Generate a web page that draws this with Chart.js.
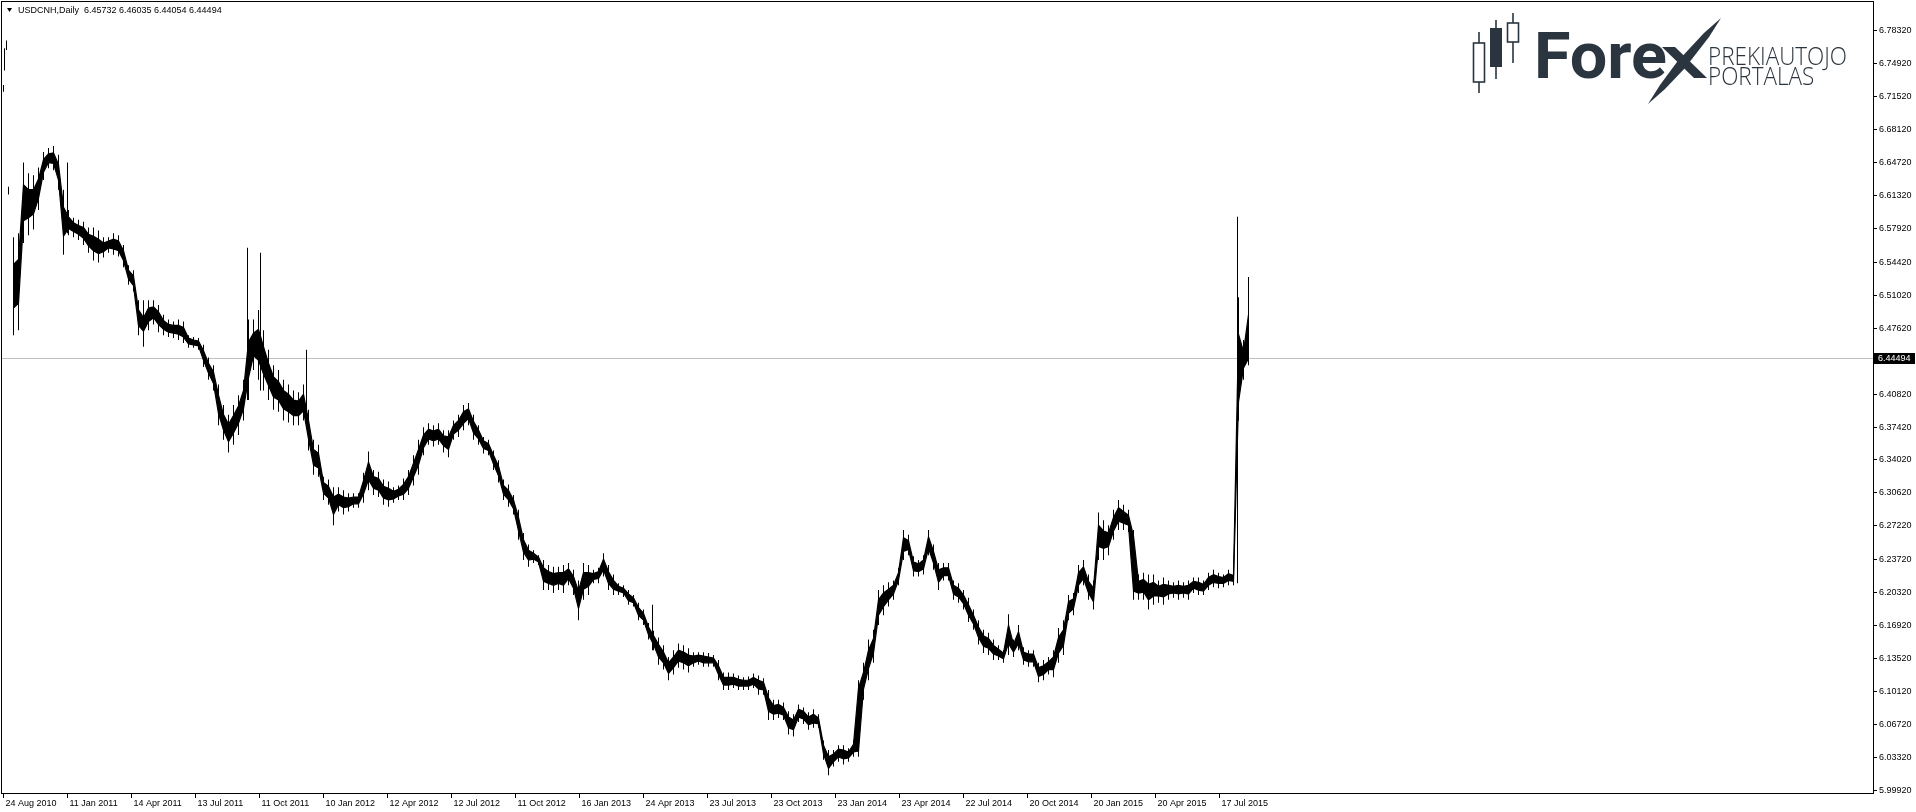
<!DOCTYPE html>
<html><head><meta charset="utf-8">
<script src="https://cdn.jsdelivr.net/npm/chart.js@4.4.1/dist/chart.umd.min.js"></script>
<style>html,body{margin:0;padding:0;background:#fff;overflow:hidden}canvas{display:block}</style>
</head><body>
<canvas id="c" width="1916" height="812"></canvas>
<script>
// ---------------- data ----------------
const symbolTitle = 'USDCNH,Daily';
const ohlcValues = ['6.45732', '6.46035', '6.44054', '6.44494'];
const lastPrice = 6.44494;

const dateTickLabels = ['24 Aug 2010','11 Jan 2011','14 Apr 2011','13 Jul 2011','11 Oct 2011','10 Jan 2012',
  '12 Apr 2012','12 Jul 2012','11 Oct 2012','16 Jan 2013','24 Apr 2013','23 Jul 2013','23 Oct 2013',
  '23 Jan 2014','23 Apr 2014','22 Jul 2014','20 Oct 2014','20 Jan 2015','20 Apr 2015','17 Jul 2015'];
// bar number (trading day since first bar) of each date label
const dateTickBars = [0,64,128,192,256,320,384,448,512,576,640,704,768,832,896,960,1024,1088,1152,1216];

const priceTickLabels = ['5.99920','6.03320','6.06720','6.10120','6.13520','6.16920','6.20320','6.23720',
  '6.27220','6.30620','6.34020','6.37420','6.40820','6.47620','6.51020','6.54420','6.57920','6.61320',
  '6.64720','6.68120','6.71520','6.74920','6.78320'];

// one sample every 5 bars, starting at bar 10
const firstColumnBar = 10;
const barsPerColumn = 5;
// extreme low / high over each 5-bar window
const columnLows = [
  6.469,6.474,6.564,6.572,6.578,6.598,6.629,6.641,6.639,6.619,
  6.552,6.572,6.570,6.567,6.562,6.554,6.546,6.544,6.549,6.554,
  6.552,6.550,6.539,6.521,6.514,6.469,6.464,6.474,6.480,6.472,
  6.469,6.467,6.466,6.464,6.461,6.456,6.456,6.454,6.436,6.423,
  6.412,6.376,6.361,6.348,6.356,6.366,6.381,6.402,6.433,6.423,
  6.412,6.402,6.392,6.390,6.381,6.379,6.376,6.376,6.381,6.350,
  6.325,6.323,6.299,6.294,6.273,6.287,6.284,6.287,6.291,6.291,
  6.296,6.309,6.304,6.302,6.294,6.292,6.296,6.299,6.299,6.304,
  6.314,6.325,6.345,6.356,6.354,6.356,6.348,6.343,6.361,6.364,
  6.371,6.376,6.361,6.356,6.347,6.345,6.330,6.317,6.299,6.292,
  6.284,6.258,6.237,6.230,6.234,6.232,6.206,6.206,6.203,6.206,
  6.203,6.211,6.201,6.175,6.196,6.201,6.213,6.213,6.220,6.206,
  6.201,6.201,6.199,6.191,6.189,6.175,6.170,6.155,6.144,6.129,
  6.124,6.113,6.119,6.126,6.124,6.121,6.127,6.129,6.127,6.127,
  6.127,6.113,6.103,6.103,6.105,6.103,6.103,6.103,6.105,6.098,
  6.098,6.072,6.072,6.074,6.072,6.057,6.055,6.070,6.068,6.062,
  6.064,6.064,6.031,6.015,6.024,6.029,6.026,6.029,6.034,6.034,
  6.093,6.113,6.131,6.170,6.180,6.189,6.196,6.211,6.237,6.242,
  6.220,6.220,6.222,6.242,6.227,6.206,6.216,6.216,6.196,6.193,
  6.186,6.173,6.165,6.150,6.141,6.139,6.134,6.134,6.131,6.139,
  6.137,6.144,6.129,6.127,6.127,6.111,6.113,6.119,6.116,6.131,
  6.139,6.175,6.180,6.203,6.211,6.196,6.186,6.237,6.237,6.242,
  6.258,6.268,6.268,6.266,6.196,6.196,6.196,6.186,6.191,6.193,
  6.191,6.196,6.198,6.196,6.198,6.196,6.203,6.201,6.201,6.206,
  6.209,6.208,6.209,6.211,6.211,6.381,6.423,6.438];
const columnHighs = [
  6.570,6.574,6.647,6.636,6.634,6.642,6.658,6.662,6.664,6.655,
  6.619,6.598,6.590,6.588,6.586,6.580,6.580,6.577,6.570,6.570,
  6.574,6.572,6.562,6.541,6.536,6.505,6.495,6.505,6.505,6.500,
  6.490,6.485,6.483,6.485,6.483,6.469,6.467,6.466,6.459,6.446,
  6.438,6.418,6.397,6.387,6.397,6.407,6.423,6.485,6.485,6.495,
  6.474,6.454,6.438,6.433,6.423,6.418,6.412,6.410,6.418,6.392,
  6.361,6.356,6.323,6.320,6.312,6.312,6.309,6.306,6.306,6.306,
  6.327,6.349,6.330,6.328,6.320,6.318,6.312,6.314,6.321,6.330,
  6.345,6.361,6.374,6.378,6.376,6.378,6.371,6.371,6.381,6.387,
  6.397,6.399,6.387,6.376,6.364,6.361,6.350,6.340,6.320,6.315,
  6.304,6.289,6.265,6.253,6.247,6.242,6.237,6.232,6.230,6.230,
  6.232,6.234,6.227,6.216,6.234,6.232,6.227,6.229,6.244,6.232,
  6.222,6.213,6.211,6.206,6.201,6.193,6.186,6.172,6.164,6.157,
  6.149,6.137,6.144,6.151,6.149,6.146,6.142,6.142,6.142,6.141,
  6.139,6.134,6.121,6.121,6.120,6.118,6.116,6.117,6.120,6.118,
  6.115,6.103,6.093,6.093,6.090,6.081,6.078,6.088,6.085,6.080,
  6.083,6.078,6.051,6.041,6.041,6.046,6.046,6.043,6.051,6.113,
  6.131,6.155,6.165,6.206,6.211,6.214,6.216,6.229,6.268,6.263,
  6.241,6.237,6.242,6.268,6.253,6.234,6.234,6.234,6.216,6.213,
  6.206,6.198,6.186,6.175,6.165,6.162,6.155,6.149,6.144,6.181,
  6.155,6.170,6.147,6.144,6.144,6.131,6.134,6.137,6.144,6.167,
  6.175,6.201,6.203,6.232,6.237,6.222,6.216,6.286,6.278,6.273,
  6.289,6.299,6.294,6.289,6.268,6.222,6.224,6.222,6.222,6.216,
  6.219,6.216,6.214,6.216,6.214,6.216,6.219,6.219,6.216,6.224,
  6.227,6.224,6.222,6.227,6.224,6.508,6.464,6.529];
// typical daily low / high at each sample
const bodyLows = [
  6.497,6.502,6.587,6.590,6.594,6.610,6.637,6.647,6.646,6.629,
  6.571,6.579,6.576,6.573,6.569,6.561,6.556,6.553,6.555,6.559,
  6.558,6.556,6.546,6.527,6.520,6.479,6.473,6.483,6.487,6.480,
  6.475,6.472,6.471,6.470,6.467,6.460,6.459,6.458,6.443,6.430,
  6.419,6.388,6.371,6.359,6.368,6.378,6.393,6.425,6.448,6.443,
  6.429,6.417,6.405,6.402,6.393,6.390,6.386,6.386,6.391,6.362,
  6.335,6.332,6.306,6.301,6.284,6.294,6.291,6.292,6.295,6.295,
  6.305,6.320,6.311,6.309,6.301,6.299,6.300,6.303,6.305,6.311,
  6.323,6.335,6.353,6.362,6.360,6.362,6.355,6.351,6.367,6.371,
  6.378,6.383,6.368,6.362,6.352,6.350,6.336,6.324,6.305,6.299,
  6.290,6.267,6.245,6.237,6.238,6.235,6.215,6.213,6.211,6.213,
  6.211,6.218,6.208,6.187,6.207,6.210,6.217,6.218,6.227,6.213,
  6.207,6.205,6.203,6.195,6.193,6.180,6.175,6.160,6.150,6.137,
  6.131,6.120,6.126,6.133,6.131,6.128,6.131,6.133,6.131,6.131,
  6.131,6.119,6.108,6.108,6.109,6.107,6.107,6.107,6.109,6.104,
  6.103,6.081,6.078,6.079,6.077,6.064,6.062,6.075,6.073,6.067,
  6.069,6.068,6.037,6.022,6.029,6.034,6.032,6.033,6.039,6.040,
  6.104,6.125,6.141,6.180,6.189,6.196,6.202,6.216,6.246,6.248,
  6.226,6.225,6.228,6.249,6.234,6.214,6.221,6.221,6.202,6.199,
  6.192,6.180,6.171,6.157,6.148,6.146,6.140,6.138,6.135,6.151,
  6.142,6.151,6.134,6.132,6.132,6.117,6.119,6.124,6.124,6.141,
  6.149,6.182,6.187,6.211,6.218,6.203,6.194,6.251,6.249,6.251,
  6.267,6.277,6.275,6.273,6.205,6.203,6.204,6.196,6.200,6.200,
  6.199,6.202,6.203,6.202,6.203,6.202,6.208,6.206,6.205,6.211,
  6.214,6.213,6.213,6.216,6.215,6.400,6.435,6.445];
const bodyHighs = [
  6.542,6.547,6.624,6.619,6.619,6.630,6.650,6.656,6.657,6.645,
  6.601,6.591,6.585,6.582,6.580,6.573,6.571,6.568,6.564,6.566,
  6.568,6.566,6.556,6.536,6.530,6.495,6.487,6.497,6.498,6.493,
  6.484,6.480,6.479,6.479,6.477,6.466,6.464,6.463,6.453,6.440,
  6.431,6.407,6.387,6.377,6.386,6.396,6.412,6.462,6.471,6.475,
  6.457,6.440,6.426,6.421,6.412,6.408,6.402,6.401,6.408,6.381,
  6.351,6.347,6.317,6.313,6.302,6.305,6.302,6.301,6.302,6.302,
  6.319,6.338,6.323,6.321,6.313,6.311,6.308,6.310,6.315,6.323,
  6.337,6.351,6.366,6.372,6.370,6.372,6.365,6.364,6.376,6.381,
  6.390,6.393,6.380,6.371,6.360,6.357,6.345,6.334,6.314,6.309,
  6.299,6.281,6.258,6.247,6.244,6.240,6.229,6.225,6.223,6.224,
  6.224,6.228,6.220,6.205,6.224,6.224,6.223,6.225,6.238,6.225,
  6.216,6.210,6.208,6.202,6.198,6.188,6.182,6.168,6.159,6.150,
  6.142,6.131,6.137,6.144,6.142,6.139,6.138,6.139,6.138,6.137,
  6.136,6.128,6.116,6.116,6.116,6.114,6.113,6.113,6.116,6.113,
  6.111,6.095,6.087,6.088,6.085,6.075,6.072,6.083,6.081,6.075,
  6.078,6.074,6.046,6.034,6.037,6.042,6.041,6.039,6.047,6.105,
  6.121,6.144,6.156,6.196,6.203,6.207,6.211,6.224,6.260,6.257,
  6.235,6.233,6.237,6.261,6.246,6.227,6.229,6.229,6.211,6.208,
  6.201,6.191,6.180,6.168,6.159,6.156,6.149,6.145,6.141,6.170,
  6.150,6.163,6.142,6.140,6.140,6.126,6.128,6.132,6.137,6.157,
  6.165,6.194,6.197,6.224,6.230,6.215,6.208,6.273,6.267,6.265,
  6.281,6.291,6.287,6.283,6.262,6.215,6.217,6.212,6.214,6.210,
  6.212,6.211,6.210,6.211,6.210,6.211,6.215,6.214,6.212,6.219,
  6.222,6.220,6.219,6.223,6.221,6.470,6.452,6.490];

// single-day bars (isolated prints and spikes)
const spikeBars  = [0, 1, 3, 5, 64, 140, 244, 257, 303, 649, 1234];
const spikeLows  = [6.720, 6.742, 6.763, 6.614, 6.574, 6.457, 6.402, 6.412, 6.381, 6.144, 6.213];
const spikeHighs = [6.727, 6.765, 6.773, 6.622, 6.647, 6.505, 6.559, 6.554, 6.454, 6.191, 6.591];

// ---------------- chart ----------------
Chart.defaults.font.family = "'Liberation Sans', Arial, sans-serif";
Chart.defaults.font.size = 9;
Chart.defaults.color = '#000';

const colBar = k => firstColumnBar + barsPerColumn * k;
const envelopeData = columnLows.map((lo, k) => ({ x: colBar(k), y: [lo, columnHighs[k]] }));
const bodyLowData = bodyLows.map((v, k) => ({ x: colBar(k), y: v }));
const bodyHighData = bodyHighs.map((v, k) => ({ x: colBar(k), y: v }));
const spikeData = spikeBars.map((b, k) => ({ x: b, y: [spikeLows[k], spikeHighs[k]] }));

const framePlugin = {
  id: 'frame',
  beforeDatasetsDraw(chart) {
    const c = chart.ctx, a = chart.chartArea;
    c.save();
    // logo
    const col = '#2b353f';
    c.strokeStyle = col; c.fillStyle = col; c.lineWidth = 1.6;
    const candles = [[1479, 32, 43, 82, 93, false], [1496, 20, 28, 67, 79, true], [1513, 13, 23, 42, 63, false]];
    candles.forEach(([cx, wt, bt, bb, wb, filled]) => {
      c.beginPath(); c.moveTo(cx, wt); c.lineTo(cx, bt); c.moveTo(cx, bb); c.lineTo(cx, wb); c.stroke();
      if (filled) { c.fillRect(cx - 6, bt, 12, bb - bt); }
      else { c.strokeRect(cx - 5.5, bt, 11, bb - bt); }
    });
    c.font = 'bold 64px Roboto, "Open Sans", sans-serif';
    c.textBaseline = 'alphabetic';
    const w = c.measureText('Fore').width;
    c.save(); c.translate(1534, 78); c.scale(133 / w, 1); c.fillText('Fore', 0, 0); c.restore();
    // stylised "x"
    c.beginPath(); c.moveTo(1662, 47); c.lineTo(1675, 47); c.lineTo(1707, 78); c.lineTo(1694, 78); c.closePath(); c.fill();
    c.beginPath(); c.moveTo(1648, 104); c.lineTo(1660, 85); c.lineTo(1677, 62); c.lineTo(1704, 33); c.lineTo(1721, 18);
    c.lineTo(1709, 37); c.lineTo(1685, 68); c.lineTo(1665, 89); c.closePath(); c.fill();
    c.font = '300 25px "Open Sans", Roboto, sans-serif';
    const w2 = c.measureText('PREKIAUTOJO').width;
    const sx = 139 / w2;
    c.save(); c.translate(1708, 65); c.scale(sx, 1); c.fillText('PREKIAUTOJO', 0, 0); c.restore();
    c.save(); c.translate(1708, 85); c.scale(sx, 1); c.fillText('PORTALAS', 0, 0); c.restore();
    // current price line
    const y = Math.round(chart.scales.y.getPixelForValue(lastPrice));
    c.fillStyle = '#c0c0c0';
    c.fillRect(a.left, y, a.right - a.left, 1);
    c.restore();
  },
  afterDraw(chart) {
    const c = chart.ctx, a = chart.chartArea;
    c.save();
    c.strokeStyle = '#000'; c.lineWidth = 1;
    c.strokeRect(a.left - 0.5, a.top - 0.5, a.right - a.left + 1, a.bottom - a.top + 1);
    // title
    c.fillStyle = '#000';
    c.beginPath(); c.moveTo(7, 8); c.lineTo(12, 8); c.lineTo(9.5, 12); c.closePath(); c.fill();
    c.font = '9px "Liberation Sans", Arial, sans-serif';
    c.textBaseline = 'middle';
    c.fillText(symbolTitle + '  ' + ohlcValues.join(' '), 18, 11);
    // current price label
    const y = Math.round(chart.scales.y.getPixelForValue(lastPrice));
    c.fillStyle = '#000';
    c.fillRect(a.right + 1, y - 5, 41, 11);
    c.fillStyle = '#fff';
    c.fillText(ohlcValues[3], a.right + 5, y + 1);
    c.restore();
  }
};

const lineStyle = { type: 'line', borderColor: '#000', borderWidth: 1.2, pointRadius: 0, tension: 0 };

new Chart(document.getElementById('c').getContext('2d'), {
  type: 'bar',
  data: {
    datasets: [
      Object.assign({ data: bodyLowData, fill: false }, lineStyle),
      Object.assign({ data: bodyHighData, fill: '-1', backgroundColor: '#000' }, lineStyle),
      { data: envelopeData, backgroundColor: '#000', borderWidth: 0, barThickness: 1, grouped: false, inflateAmount: 0 },
      { data: spikeData, backgroundColor: '#000', borderWidth: 0, barThickness: 1, grouped: false, inflateAmount: 0 }
    ]
  },
  options: {
    responsive: false, animation: false, devicePixelRatio: 1,
    layout: { padding: { left: 2, top: 2, right: 0, bottom: 0 } },
    plugins: { legend: { display: false }, tooltip: { enabled: false } },
    scales: {
      x: {
        type: 'linear', position: 'bottom', min: -1.5, max: 1869.5, offset: false,
        grid: { display: true, drawOnChartArea: false, drawTicks: true, tickLength: 5, color: '#000', offset: false },
        border: { display: false },
        afterBuildTicks: s => { s.ticks = dateTickBars.map(v => ({ value: v })); },
        afterFit: s => { s.height = 19; s.paddingLeft = 0; s.paddingRight = 0; },
        ticks: { autoSkip: false, maxRotation: 0, minRotation: 0, align: 'start', labelOffset: 2, padding: 0,
          callback: (v, i) => dateTickLabels[i] }
      },
      y: {
        type: 'linear', position: 'right', min: 5.99672, max: 6.81261,
        grid: { display: true, drawOnChartArea: false, drawTicks: true, tickLength: 4, color: '#000' },
        border: { display: false },
        afterBuildTicks: s => { s.ticks = priceTickLabels.map(t => ({ value: parseFloat(t) })); },
        afterFit: s => { s.width = 43; s.paddingTop = 0; s.paddingBottom = 0; },
        ticks: { autoSkip: false, padding: 2, callback: (v, i) => priceTickLabels[i] }
      }
    }
  },
  plugins: [framePlugin]
});
</script>
</body></html>
